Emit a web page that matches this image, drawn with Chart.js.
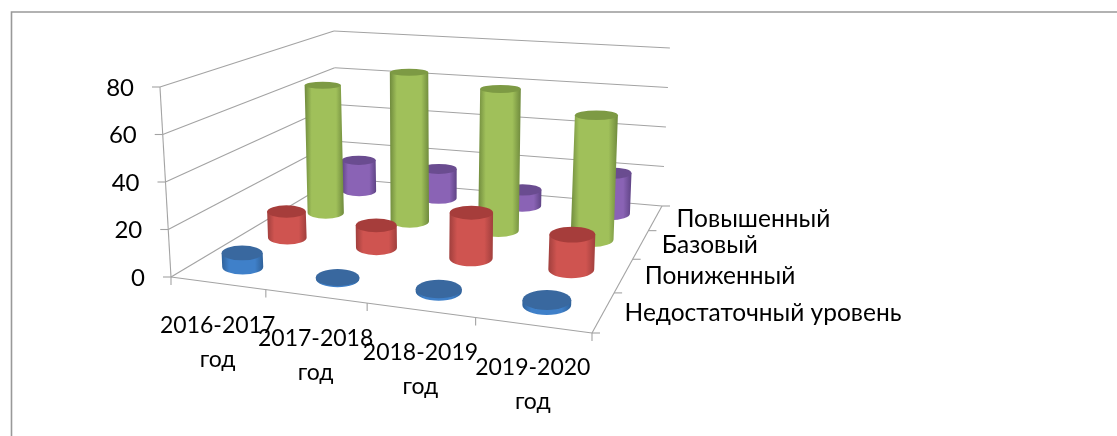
<!DOCTYPE html>
<html><head><meta charset="utf-8">
<style>html,body{margin:0;padding:0;background:#fff}canvas{display:block}</style>
<script src="https://cdn.jsdelivr.net/npm/chart.js@4"></script></head>
<body><canvas id="c" width="1117" height="436"></canvas>
<script>
const categories = [["2016-2017","год"],["2017-2018","год"],["2018-2019","год"],["2019-2020","год"]];
const seriesNames = ["Недостаточный уровень","Пониженный","Базовый","Повышенный"];
const nedostatochny = [6,0.5,1,2];
const ponizhenny = [12,10,20,15];
const bazovy = [62,71,66,57];
const povysheny = [16,15,8,20];
const yTicks = [0,20,40,60,80];

const FAMILY = 'Lato, "Open Sans", sans-serif';
const GRID = '#a3a3a3';
const looks = [
 {edge:'#2f6199',mid:'#3f80c9',top:'#39689f'},
 {edge:'#a03f3d',mid:'#cf5450',top:'#a63d3b'},
 {edge:'#6f8a3d',mid:'#a0c05a',top:'#7d9a44'},
 {edge:'#5f4485',mid:'#8a63b5',top:'#6a4c90'}
];
// floor corners of the 3D box on the page: front-left, front-right, back-right, back-left
const C = {fl:[171,277],fr:[592,333],br:[662,206],bl:[337,178]};
const wallH = {fl:190,fr:206,br:158,bl:147};
const VP = [433,4790];

function floorPt(u,v){
  u=u+0.024*u*(1-u);
  const [x0,y0]=C.fl,[x1,y1]=C.fr,[x2,y2]=C.br,[x3,y3]=C.bl;
  const sx=x0-x1+x2-x3, sy=y0-y1+y2-y3;
  const dx1=x1-x2, dx2=x3-x2, dy1=y1-y2, dy2=y3-y2;
  const den=dx1*dy2-dx2*dy1;
  const g=(sx*dy2-dx2*sy)/den, h=(dx1*sy-sx*dy1)/den;
  const a=x1-x0+g*x1, b=x3-x0+h*x3, d=y1-y0+g*y1, e=y3-y0+h*y3;
  const w=g*u+h*v+1;
  return [(a*u+b*v+x0)/w,(d*u+e*v+y0)/w];
}
function heightAt(u,v){
  return (1-u)*(1-v)*wallH.fl+u*(1-v)*wallH.fr+u*v*wallH.br+(1-u)*v*wallH.bl;
}
function project(u,v,f){
  const [x,y]=floorPt(u,v);
  const h=f*heightAt(u,v);
  return [x+(x-VP[0])/(VP[1]-y)*h,y-h];
}
function line(ctx,a,b){ctx.beginPath();ctx.moveTo(a[0],a[1]);ctx.lineTo(b[0],b[1]);ctx.stroke();}

function drawCylinder(ctx,u,v,f,look){
  const B=project(u,v,0),T=project(u,v,f);
  const rx=0.11*heightAt(u,v)*(0.98+0.16*u);
  const ratio=y=>0.11+y*0.001;
  const rb=rx*ratio(B[1]),rt=rx*ratio(T[1]);
  const L=Math.min(B[0],T[0])-rx,R=Math.max(B[0],T[0])+rx;
  const g=ctx.createLinearGradient(L,0,R,0);
  g.addColorStop(0,look.edge);g.addColorStop(0.18,look.mid);g.addColorStop(0.8,look.mid);g.addColorStop(1,look.edge);
  ctx.beginPath();
  ctx.moveTo(T[0]-rx,T[1]);
  ctx.lineTo(B[0]-rx,B[1]);
  ctx.ellipse(B[0],B[1],rx,rb,0,Math.PI,0,true);
  ctx.lineTo(T[0]+rx,T[1]);
  ctx.closePath();
  ctx.fillStyle=g;ctx.fill();
  ctx.beginPath();
  ctx.ellipse(T[0],T[1],rx,rt,0,0,Math.PI*2);
  ctx.fillStyle=look.top;ctx.fill();
}

const box3d = {
  id:'box3d',
  beforeDatasetsDraw(chart){
    const ctx=chart.ctx,{x:xs,y:ys,z:zs}=chart.scales;
    const U=i=>(xs.getPixelForValue(i)-xs.left)/xs.width;
    const V=i=>(zs.getPixelForValue(i)-zs.left)/zs.width;
    const F=val=>(ys.bottom-ys.getPixelForValue(val))/ys.height;
    ctx.save();
    // outer frame: only the top and left edges are inside the picture
    ctx.strokeStyle='#999';ctx.lineWidth=1.6;
    ctx.beginPath();ctx.moveTo(11.5,436);ctx.lineTo(11.5,12);ctx.lineTo(1117,12);ctx.stroke();
    // walls and floor
    ctx.strokeStyle=GRID;ctx.lineWidth=1.1;
    ys.ticks.forEach(t=>{
      const f=F(t.value);
      line(ctx,project(0,0,f),project(0,1,f));
      line(ctx,project(0,1,f),project(1,1,f));
      const p=project(0,0,f);
      line(ctx,[p[0]-8,p[1]],p);
    });
    line(ctx,project(0,0,0),project(0,0,1));
    line(ctx,project(0,0,0),project(1,0,0));
    line(ctx,project(1,0,0),project(1,1,0));
    [0,.25,.5,.75,1].forEach(t=>{
      const p=project(t,0,0);line(ctx,p,[p[0],p[1]+8]);
      const q=project(1,t,0);line(ctx,q,[q[0]+8,q[1]]);
    });
    // cylinders, back row first
    for(let s=chart.data.datasets.length-1;s>=0;s--){
      chart.data.datasets[s].data.forEach((val,i)=>{
        drawCylinder(ctx,U(i),V(s),F(val),looks[s]);
      });
    }
    // text
    ctx.fillStyle='#000';ctx.textBaseline='middle';
    ctx.font='24px '+FAMILY;ctx.textAlign='right';
    ys.ticks.forEach(t=>{
      const p=project(0,0,F(t.value));
      ctx.fillText(String(t.value),p[0]-26,p[1]+1);
    });
    ctx.font='23px '+FAMILY;ctx.textAlign='center';
    chart.data.labels.forEach((lab,i)=>{
      const p=project(U(i),0,0);
      lab.forEach((ln,k)=>ctx.fillText(ln,p[0],p[1]+42+k*34));
    });
    ctx.font='24.5px '+FAMILY;ctx.textAlign='left';
    seriesNames.forEach((n,s)=>{
      const p=project(1,V(s),0);
      ctx.fillText(n,p[0]+21,p[1]+1);
    });
    ctx.restore();
    return false;
  }
};

new Chart(document.getElementById('c'),{
  type:'bar',
  data:{labels:categories,datasets:[
    {label:seriesNames[0],data:nedostatochny,backgroundColor:'#4f81bd'},
    {label:seriesNames[1],data:ponizhenny,backgroundColor:'#c0504d'},
    {label:seriesNames[2],data:bazovy,backgroundColor:'#9bbb59'},
    {label:seriesNames[3],data:povysheny,backgroundColor:'#8064a2'}
  ]},
  options:{
    responsive:false,animation:false,
    plugins:{legend:{display:false},tooltip:{enabled:false}},
    scales:{
      x:{type:'category',display:false,offset:true},
      z:{type:'category',axis:'x',position:'top',labels:seriesNames,display:false,offset:true},
      y:{type:'linear',display:false,min:0,max:80,afterBuildTicks(s){s.ticks=yTicks.map(v=>({value:v}));}}
    }
  },
  plugins:[box3d]
});
</script></body></html>
